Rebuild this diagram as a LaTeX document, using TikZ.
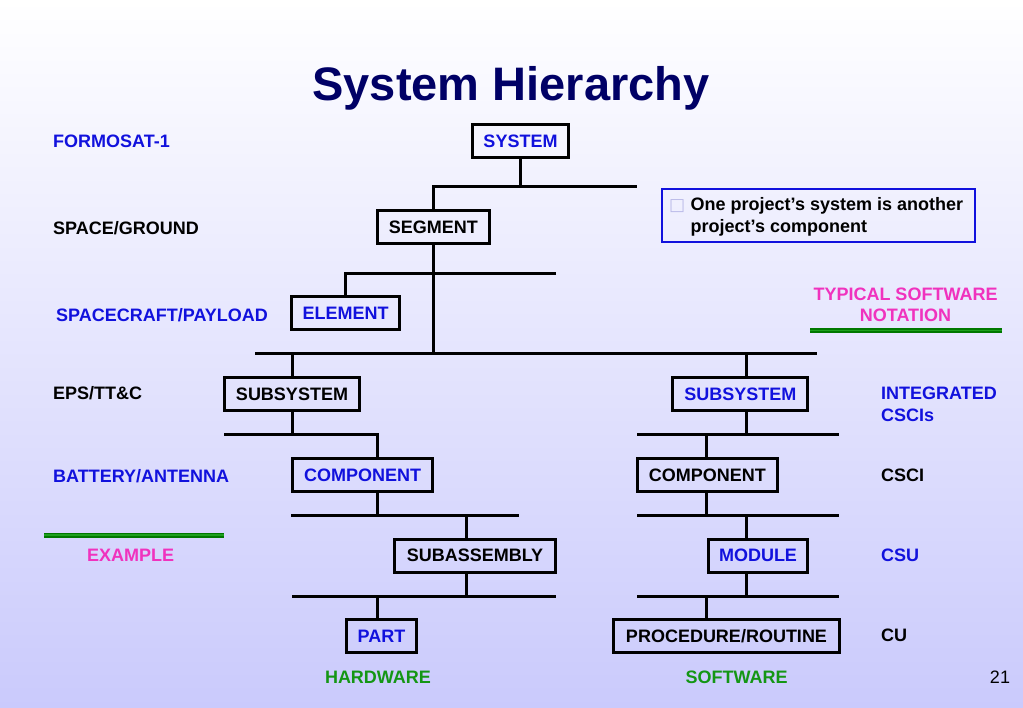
\documentclass[tikz,border=0pt]{standalone}
\usepackage{fontspec}
\setmainfont{Liberation Sans}
\newfontfamily\dejavu{DejaVu Sans}
\definecolor{bgbot}{RGB}{202,202,252}
\definecolor{ttl}{RGB}{0,0,102}
\definecolor{tblue}{RGB}{17,17,221}
\definecolor{tmag}{RGB}{240,50,190}
\definecolor{tgreen}{RGB}{20,150,20}
\definecolor{gline}{RGB}{0,120,0}
\definecolor{gline2}{RGB}{30,160,30}
\definecolor{bullet}{RGB}{185,185,232}
\begin{document}
\begin{tikzpicture}[x=1pt,y=-1pt,
  every node/.style={font=\fontsize{18}{21}\selectfont\bfseries},
  hbox/.style={draw=black,line width=3pt,inner sep=0pt,minimum height=33pt,text height=12.9pt,text depth=0pt},
  conn/.style={draw=black,line width=3pt,line join=miter},
  lbl/.style={anchor=west,inner sep=0pt,text height=12.9pt,text depth=0pt},
  gbar/.style={draw=gline,line width=1.8pt,double=gline2,double distance=1.4pt}
]
\useasboundingbox (0,0) rectangle (1023,708);
\shade[top color=white,bottom color=bgbot] (0,0) rectangle (1023,708);

% title
\node[text=ttl,font=\fontsize{47}{56}\selectfont\bfseries,inner sep=0pt,text height=33.7pt,text depth=0pt] (title) at (511,84) {System Hierarchy};

% boxes
\node[hbox,minimum width=96pt,text=tblue] (sys) at (520.5,140.7) {SYSTEM};
\node[hbox,minimum width=112pt] (seg) at (433.3,227) {SEGMENT};
\node[hbox,minimum width=108pt,text=tblue] (elem) at (345.5,313.3) {ELEMENT};
\node[hbox,minimum width=135pt] (subL) at (292,394) {SUBSYSTEM};
\node[hbox,minimum width=140pt,text=tblue] (compL) at (362.7,475) {COMPONENT};
\node[hbox,minimum width=161.6pt] (subas) at (475,555.5) {SUBASSEMBLY};
\node[hbox,minimum width=70.6pt,text=tblue] (part) at (381.5,636) {PART};
\node[hbox,minimum width=135pt,text=tblue] (subR) at (740.3,394) {SUBSYSTEM};
\node[hbox,minimum width=140.3pt] (compR) at (707.3,475) {COMPONENT};
\node[hbox,minimum width=99.6pt,text=tblue] (module) at (758,555.5) {MODULE};
\node[hbox,minimum width=225.4pt] (proc) at (726.5,636) {PROCEDURE/ROUTINE};

% bus coordinates
\coordinate (b1e) at (636.7,187);
\coordinate (b2e) at (556,273.3);
\coordinate (b3w) at (255,354);
\coordinate (b3e) at (817,354);
\coordinate (t3R) at (746.7,354);
\coordinate (b4Lw) at (224,434.7);
\coordinate (t4L) at (377.7,434.7);
\coordinate (b5Lw) at (291,515);
\coordinate (b5Le) at (519,515);
\coordinate (t5L) at (466,515);
\coordinate (b6Lw) at (292.3,596);
\coordinate (b6Le) at (555.7,596);
\coordinate (b4Rw) at (637.3,434.7);
\coordinate (b4Re) at (839.3,434.7);
\coordinate (t4R) at (706,434.7);
\coordinate (b5Rw) at (637.3,515);
\coordinate (b5Re) at (839.3,515);
\coordinate (b6Rw) at (637.3,596);
\coordinate (b6Re) at (839.3,596);

% connectors
\draw[conn] (sys.south) -- (sys.south |- b1e);
\draw[conn] (b1e) -| (seg.north);
\draw[conn] (b2e) -| (elem.north);
\draw[conn] (seg.south) -- (seg.south |- b3w);
\draw[conn] (b3w) -- (b3e);
\draw[conn] (subL.north |- b3w) -- (subL.north);
\draw[conn] (t3R) -- (t3R |- subR.north);
% left branch
\draw[conn] (subL.south) -- (subL.south |- b4Lw);
\draw[conn] (b4Lw) -- (t4L) -- (t4L |- compL.north);
\draw[conn] (t4L |- compL.south) -- (t4L |- b5Lw);
\draw[conn] (b5Lw) -- (b5Le);
\draw[conn] (t5L) -- (t5L |- subas.north);
\draw[conn] (t5L |- subas.south) -- (t5L |- b6Lw);
\draw[conn] (b6Lw) -- (b6Le);
\draw[conn] (t4L |- b6Lw) -- (t4L |- part.north);
% right branch
\draw[conn] (t3R |- subR.south) -- (t3R |- b4Rw);
\draw[conn] (b4Rw) -- (b4Re);
\draw[conn] (t4R) -- (t4R |- compR.north);
\draw[conn] (t4R |- compR.south) -- (t4R |- b5Rw);
\draw[conn] (b5Rw) -- (b5Re);
\draw[conn] (t3R |- b5Rw) -- (t3R |- module.north);
\draw[conn] (t3R |- module.south) -- (t3R |- b6Rw);
\draw[conn] (b6Rw) -- (b6Re);
\draw[conn] (t4R |- b6Rw) -- (t4R |- proc.north);

% left labels
\node[lbl,text=tblue] (l1) at (53,141.5) {FORMOSAT-1};
\node[lbl] (l2) at (53,228) {SPACE/GROUND};
\node[lbl,text=tblue] (l3) at (56,315) {SPACECRAFT/PAYLOAD};
\node[lbl] (l4) at (53,393) {EPS/TT\&C};
\node[lbl,text=tblue] (l5) at (53,476) {BATTERY/ANTENNA};
\coordinate (g1w) at (44,535);
\coordinate (g1e) at (224,535);
\draw[gbar] (g1w) -- (g1e);
\node[inner sep=0pt,text height=12.9pt,text depth=0pt,text=tmag] (ex) at (130.7,555) {EXAMPLE};

% right labels
\node[lbl,text=tblue] (r1) at (881,393) {INTEGRATED};
\node[anchor=west,inner sep=0pt,text height=12.9pt,text depth=0pt,text=tblue] (r1b) at (881,415) {CSCIs};
\node[lbl] (r2) at (881,475) {CSCI};
\node[lbl,text=tblue] (r3) at (881,555) {CSU};
\node[lbl] (r4) at (881,635.5) {CU};

% note box
\node[draw=tblue,line width=2pt,minimum width=313pt,minimum height=53pt,inner sep=0pt] (note) at (818.2,215.8) {};
\node[anchor=base west,inner sep=0pt,text=bullet,font=\dejavu\fontsize{17}{20}\selectfont] (bul) at (669,211) {□};
\node[anchor=base west,inner sep=0pt,align=left] (nt1) at (690.5,210.7) {One project’s system is another};
\node[anchor=base west,inner sep=0pt,align=left] (nt2) at (690.5,232.7) {project’s component};

% typical software notation
\node[inner sep=0pt,text height=12.9pt,text depth=0pt,text=tmag] (tsn1) at (905.5,294) {TYPICAL SOFTWARE};
\node[inner sep=0pt,text height=12.9pt,text depth=0pt,text=tmag] (tsn2) at (905.5,315) {NOTATION};
\coordinate (g2w) at (810,330.7);
\coordinate (g2e) at (1001.7,330.7);
\draw[gbar] (g2w) -- (g2e);

% bottom labels
\node[inner sep=0pt,text height=12.9pt,text depth=0pt,text=tgreen] (hw) at (378,677) {HARDWARE};
\node[inner sep=0pt,text height=12.9pt,text depth=0pt,text=tgreen] (sw) at (736.7,677) {SOFTWARE};
\node[inner sep=0pt,text height=12.9pt,text depth=0pt,font=\fontsize{18}{21}\selectfont] (pg) at (1000,677) {21};
\end{tikzpicture}
\end{document}
